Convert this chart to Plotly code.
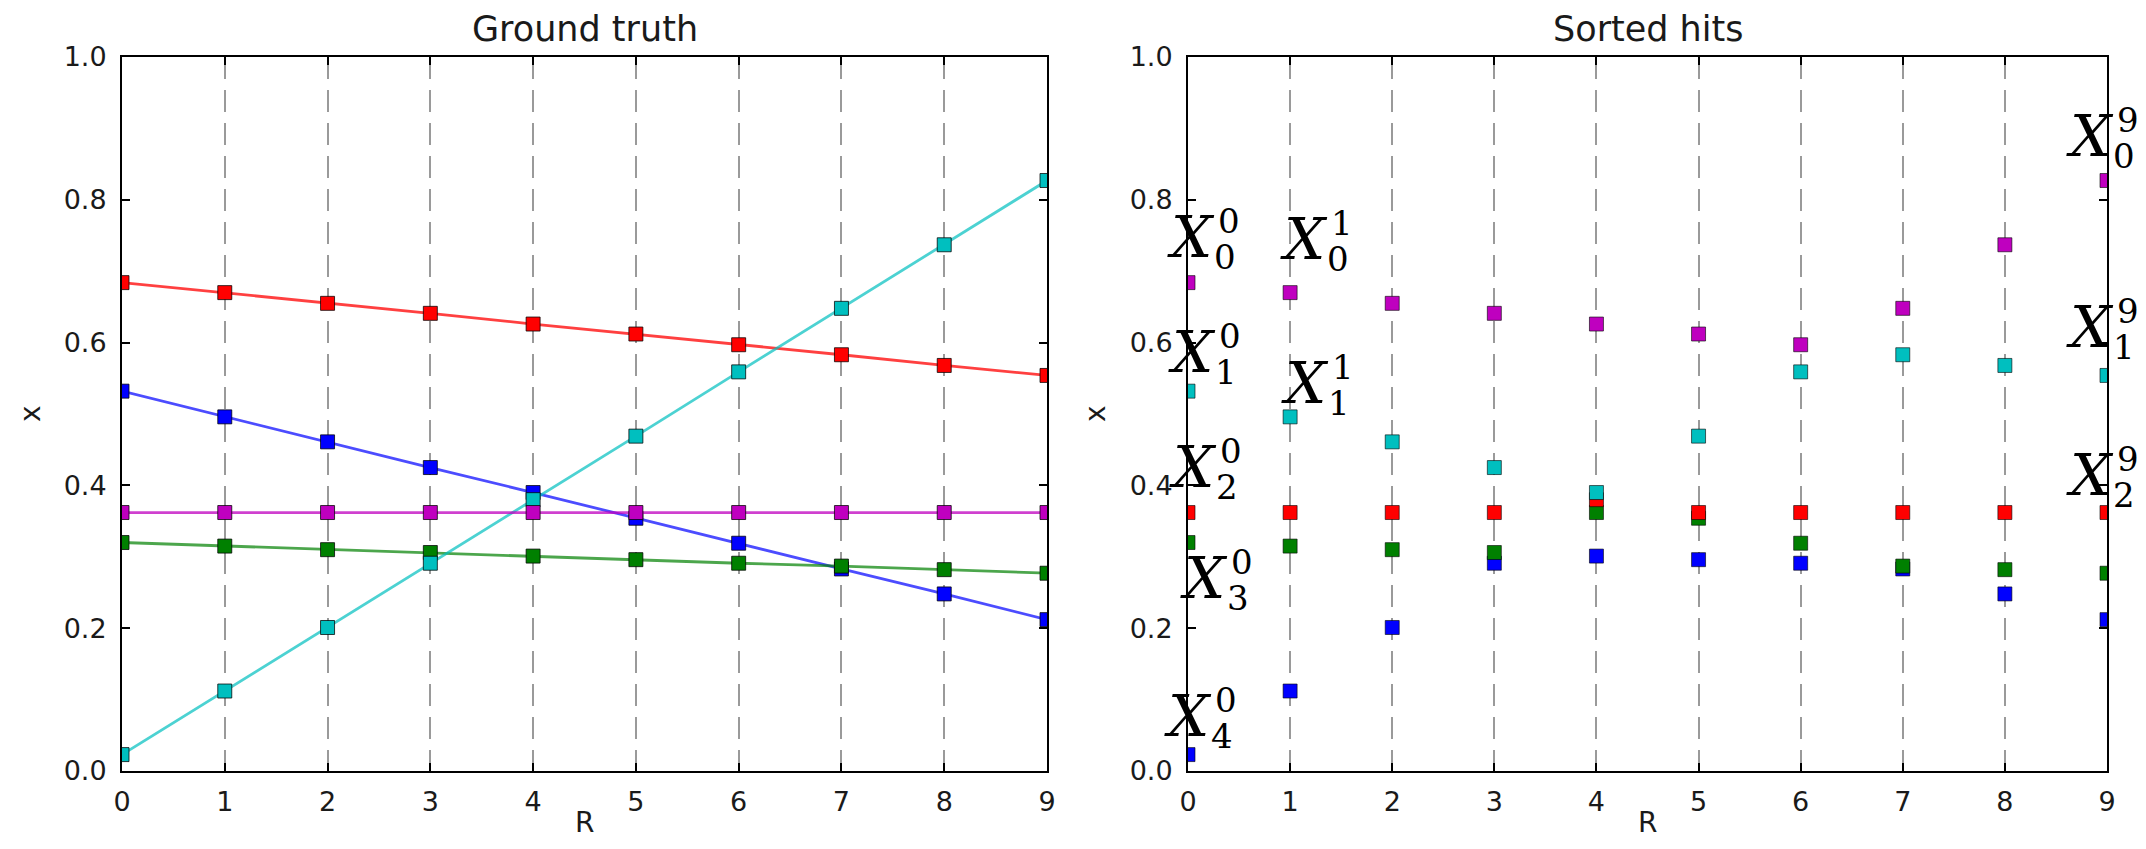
import plotly.graph_objects as go

# ---------------- data ----------------
R = [0, 1, 2, 3, 4, 5, 6, 7, 8, 9]
gt_blue = [0.532, 0.496, 0.461, 0.425, 0.390, 0.354, 0.319, 0.283, 0.248, 0.212]
gt_green = [0.320, 0.315, 0.310, 0.306, 0.301, 0.296, 0.291, 0.287, 0.282, 0.277]
gt_red = [0.684, 0.670, 0.655, 0.641, 0.626, 0.612, 0.597, 0.583, 0.568, 0.554]
gt_cyan = [0.023, 0.112, 0.201, 0.291, 0.380, 0.469, 0.559, 0.648, 0.737, 0.827]
gt_magenta = [0.362, 0.362, 0.362, 0.362, 0.362, 0.362, 0.362, 0.362, 0.362, 0.362]

x_ticks = [0, 1, 2, 3, 4, 5, 6, 7, 8, 9]
x_tick_labels = ["0", "1", "2", "3", "4", "5", "6", "7", "8", "9"]
y_ticks = [0.0, 0.2, 0.4, 0.6, 0.8, 1.0]
y_tick_labels = ["0.0", "0.2", "0.4", "0.6", "0.8", "1.0"]

# labels X_{sub}^{sup} placed on the "Sorted hits" panel (sup, sub, R, x)
hit_labels = [
    ("0", "0", 0.03, 0.748),
    ("0", "1", 0.04, 0.587),
    ("0", "2", 0.05, 0.426),
    ("0", "3", 0.16, 0.270),
    ("0", "4", 0.00, 0.077),
    ("1", "0", 1.14, 0.745),
    ("1", "1", 1.15, 0.544),
    ("9", "0", 8.83, 0.890),
    ("9", "1", 8.83, 0.622),
    ("9", "2", 8.83, 0.414),
]

# ---------------- styling ----------------
PAGE_W, PAGE_H = 2146, 849
OFF = 8                      # browser body margin
W, H = PAGE_W - 2 * OFF, PAGE_H - 2 * OFF

marker_cols = {"b": "#0000ff", "g": "#008000", "r": "#ff0000", "c": "#00bfbf", "m": "#bf00bf"}
line_cols = {"b": "rgba(0,0,255,0.7)", "g": "rgba(0,128,0,0.7)", "r": "rgba(255,0,0,0.75)",
             "c": "rgba(0,191,191,0.7)", "m": "rgba(191,0,191,0.75)"}
order = ["b", "g", "r", "c", "m"]
gt = {"b": gt_blue, "g": gt_green, "r": gt_red, "c": gt_cyan, "m": gt_magenta}


def px_x(p):
    return (p - OFF) / W


def px_y(p):
    return (H - (p - OFF)) / H


fig = go.Figure()

# Ground truth panel
for k in order:
    fig.add_trace(go.Scatter(
        x=R, y=gt[k], mode="lines+markers", xaxis="x", yaxis="y",
        line=dict(color=line_cols[k], width=2.8),
        marker=dict(symbol="square", size=14, color=marker_cols[k],
                    line=dict(color="rgba(0,0,0,0.75)", width=1)),
        showlegend=False, hoverinfo="skip"))

# Sorted hits panel: sort hits per R ascending, colour by rank (b,g,r,c,m)
sorted_cols = [[] for _ in order]
for i in range(len(R)):
    vals = sorted(gt[k][i] for k in order)
    for j, v in enumerate(vals):
        sorted_cols[j].append(v)
for j, k in enumerate(order):
    fig.add_trace(go.Scatter(
        x=R, y=sorted_cols[j], mode="markers", xaxis="x2", yaxis="y2",
        marker=dict(symbol="square", size=14, color=marker_cols[k],
                    line=dict(color="rgba(0,0,0,0.6)", width=1)),
        showlegend=False, hoverinfo="skip"))

# axes (page pixel positions)
px_left1, px_right1 = 122, 1047
px_left2, px_right2 = 1188, 2107
px_top, px_bottom = 57, 771
xdom1 = [px_x(px_left1), px_x(px_right1)]
xdom2 = [px_x(px_left2), px_x(px_right2)]
ydom = [px_y(px_bottom), px_y(px_top)]

tick_font = dict(family="DejaVu Sans", size=27, color="#1a1a1a")
common_x = dict(range=[0, 9], tickvals=x_ticks, ticktext=x_tick_labels,
                showgrid=True, gridcolor="#9a9a9a", gridwidth=2, griddash="22px,11px",
                zeroline=False, showline=True, linecolor="black", linewidth=2,
                mirror="allticks", ticks="inside", ticklen=8, tickwidth=1.5,
                tickcolor="black", tickfont=tick_font, ticklabelstandoff=6,
                automargin=False)
common_y = dict(range=[0, 1], tickvals=y_ticks, ticktext=y_tick_labels,
                showgrid=False, zeroline=False, showline=True, linecolor="black",
                linewidth=2, mirror="allticks", ticks="inside", ticklen=8,
                tickwidth=1.5, tickcolor="black", tickfont=tick_font,
                ticklabelstandoff=8, automargin=False)

fig.update_layout(
    width=W, height=H, margin=dict(l=0, r=0, t=0, b=0, autoexpand=False),
    paper_bgcolor="white", plot_bgcolor="white",
    xaxis=dict(domain=xdom1, anchor="y", **common_x),
    yaxis=dict(domain=ydom, anchor="x", **common_y),
    xaxis2=dict(domain=xdom2, anchor="y2", **common_x),
    yaxis2=dict(domain=ydom, anchor="x2", **common_y),
)

ann = []
title_font = dict(family="DejaVu Sans", size=35, color="#1a1a1a")
label_font = dict(family="DejaVu Sans", size=28, color="#1a1a1a")
for dom, title in ((xdom1, "Ground truth"), (xdom2, "Sorted hits")):
    cx = (dom[0] + dom[1]) / 2
    ann.append(dict(text=title, x=cx, y=px_y(29), xref="paper", yref="paper",
                    xanchor="center", yanchor="middle", showarrow=False, font=title_font))
    ann.append(dict(text="R", x=cx, y=0, xref="paper", yref="paper",
                    xanchor="center", yanchor="bottom", showarrow=False, font=label_font))
for xpx in (30, 1095):
    ann.append(dict(text="x", x=px_x(xpx), y=(ydom[0] + ydom[1]) / 2, xref="paper",
                    yref="paper", xanchor="center", yanchor="middle", textangle=-90,
                    showarrow=False, font=label_font))

X_font = dict(family="DejaVu Serif", size=58, color="black")
d_font = dict(family="DejaVu Serif", size=34, color="black")
for sup, sub, rx, vy in hit_labels:
    ann.append(dict(text="<i>X</i>", x=rx, y=vy, xref="x2", yref="y2",
                    xanchor="center", yanchor="middle", showarrow=False, font=X_font))
    ann.append(dict(text=sup, x=rx, y=vy, xref="x2", yref="y2", xshift=38, yshift=16,
                    xanchor="center", yanchor="middle", showarrow=False, font=d_font))
    ann.append(dict(text=sub, x=rx, y=vy, xref="x2", yref="y2", xshift=34, yshift=-20,
                    xanchor="center", yanchor="middle", showarrow=False, font=d_font))

fig.update_layout(annotations=ann)
fig.write_html("out.html")
